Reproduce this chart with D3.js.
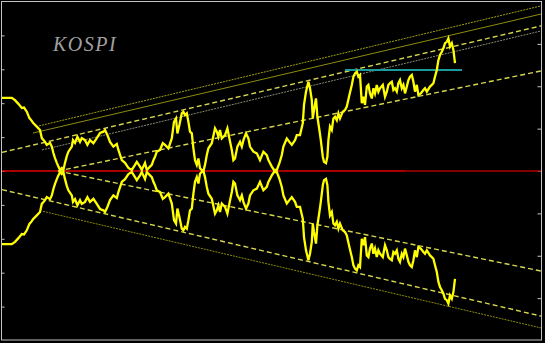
<!DOCTYPE html>
<html>
<head>
<meta charset="utf-8">
<script src="https://cdn.jsdelivr.net/npm/d3@7"></script>
<style>
html,body{margin:0;padding:0;background:#000;}
svg{display:block;}
</style>
</head>
<body>
<svg id="c" width="545" height="343"></svg>
<script>
// ---- data ----
const title = "KOSPI";
// trading-day index
const days = [0,4.9,6.5,8.2,9.9,11,12.4,13.7,14.9,15.5,17.4,19,19.9,21.5,22.4,24,24.9,25.7,26.5,27.4,28.2,29,29.9,30.7,31.5,32.4,33.2,34.9,35.5,36.5,37.7,39,39.9,41.5,42.7,44,45.7,47.4,49,50.7,51.5,52.7,54,55.7,57.4,58.2,59.9,61.5,63.2,64.9,66.5,67.4,69,69.9,71.5,72.4,74,74.9,75.7,76.5,77.4,79,80.4,81.5,83.2,84.9,86,87,87.7,88.7,89.9,90.7,91.5,92.4,93.2,94,94.9,95.7,96.5,97.4,98.2,99,99.9,100.7,101.5,102.4,103.2,104.9,106.5,107.4,108.2,109,109.9,111.5,112.7,113.7,114.9,115.7,116.5,117.7,119,119.9,120.7,122,123.2,124,125.7,127.4,129,130.7,132.4,133.2,134.9,136,137.4,138.7,139.9,140.7,142.4,143.7,144.9,146.5,147.4,149,150.4,151,152,153.2,154,154.9,155.4,156,157,157.7,158.7,159.4,160.4,161,162,162.7,163.2,164,164.9,165.7,166.5,167.4,168.2,169,170.4,171.5,172.4,173.7,174.9,175.7,176.5,177.4,178.2,179,179.9,180.7,181.5,182.4,183.2,184,184.9,185.7,186.5,187.4,188.2,189,190.4,191.5,192.4,193.2,194,194.9,195.7,196.5,197.4,198.2,199,199.9,200.7,201.5,202.4,203.2,204,204.9,205.7,206.5,207.4,208.2,209.4,210.7,211.5,212.4,214,214.9,215.7,216.5,217.4,218.2,219,219.9,220.7,221.5,222.4,223.2,224,224.9,225.7,226.5];
// normalized KOSPI deviation
const kospi = [2.16,2.16,2.09,1.98,1.86,1.87,1.75,1.56,1.48,1.42,1.31,1.21,0.97,0.86,0.77,0.83,0.72,0.53,0.38,0.24,0.13,0.03,0.09,0.03,0.24,0.44,0.57,0.72,0.91,0.83,1.01,0.86,0.97,0.91,0.77,0.91,0.82,0.97,1.12,1.16,1.21,1.06,0.86,0.72,0.80,0.62,0.32,0.24,0.09,0.03,0.18,0.27,0.13,0.03,0.24,0.03,0.13,0.18,0.32,0.42,0.57,0.62,0.82,0.77,0.67,0.96,1.45,1.55,1.11,1.36,1.70,1.75,1.65,1.70,1.45,1.16,1.11,0.67,0.32,0.18,0.37,0.08,0.03,0.00,0.18,0.47,0.67,0.82,1.26,1.16,1.01,1.21,0.96,1.06,1.26,0.96,0.62,0.32,0.37,0.72,0.86,0.72,0.91,1.11,0.96,0.72,0.57,0.52,0.32,0.57,0.47,0.32,0.13,0.03,0.03,0.23,0.47,0.72,0.96,0.86,0.77,0.91,1.06,1.06,1.41,1.95,2.34,2.63,2.44,2.09,1.55,1.80,2.14,1.60,1.21,0.91,0.42,0.27,0.23,0.42,0.91,1.31,1.21,1.55,1.60,1.50,1.70,1.55,1.75,1.80,1.90,2.24,2.54,2.78,2.88,2.93,2.78,2.83,2.00,2.19,1.95,2.49,2.54,2.29,2.14,2.44,2.29,2.54,2.34,2.44,2.54,2.19,2.34,2.54,2.59,2.63,2.39,2.44,2.34,2.59,2.68,2.44,2.54,2.29,2.49,2.68,2.78,2.83,2.63,2.34,2.54,2.24,2.29,2.39,2.44,2.34,2.49,2.54,2.59,2.78,2.98,3.27,3.42,3.52,3.62,3.77,3.81,3.91,3.67,3.77,3.57,3.18];
// trend lines: [startDay, startValue, endDay, endValue]
const channelTop   = [18.5, 1.33, 269.5, 4.87];
const channelMid   = [15.5, 1.12, 269.5, 4.63];
const trendUpper   = [0, 0.55, 269.5, 4.28];
const trendGrey    = [20, 0.62, 269.5, 4.13];
const trendLower   = [28, 0, 269.5, 2.95];
const mirrorUpper  = [0, -0.55, 269.5, -4.28];
const mirrorMid    = [20.5, -1.19, 269.5, -4.63];
const mirrorLower  = [28, 0, 269.5, -2.95];
const resistance   = [171.5, 2.98, 230, 2.98];
const leftTicks  = [-4,-3,-2,-1,0,1,2,3,4];
const rightTicks = [-3,-2,-1,0,1,2,3];

// ---- scales ----
const svg = d3.select("#c");
const W = 545, H = 343;
const x = d3.scaleLinear().domain([0, 270]).range([2, 542]);
const yL = d3.scaleLinear().domain([-5, 5]).range([340.5, 1.5]);
const yR = d3.scaleLinear().domain([-4, 4]).range([340.5, 1.5]);

svg.append("rect").attr("width", W).attr("height", H).attr("fill", "#000");

// frame
svg.append("rect").attr("x", 1.5).attr("y", 1.5)
  .attr("width", 540).attr("height", 338.5)
  .attr("fill", "none").attr("stroke", "#c4c4c4").attr("stroke-width", 1);

// axes ticks
const la = svg.append("g").attr("transform", "translate(1.5,0)")
  .call(d3.axisRight(yL).tickValues(leftTicks).tickSize(3).tickFormat(""));
const ra = svg.append("g").attr("transform", "translate(541.5,0)")
  .call(d3.axisLeft(yR).tickValues(rightTicks).tickSize(4).tickFormat(""));
[la, ra].forEach(g => {
  g.select(".domain").remove();
  g.selectAll(".tick line").attr("stroke", "#c4c4c4");
});

// zero line
svg.append("line").attr("x1", 2).attr("x2", x(201.5))
  .attr("y1", yL(0)).attr("y2", yL(0)).attr("stroke", "#e00000").attr("stroke-width", 1.5);
svg.append("line").attr("x1", x(201.5)).attr("x2", 541)
  .attr("y1", yL(0)).attr("y2", yL(0)).attr("stroke", "#a80000").attr("stroke-width", 1.5);

function seg(d, color, width, dash) {
  svg.append("line")
    .attr("x1", x(d[0])).attr("y1", yL(d[1]))
    .attr("x2", x(d[2])).attr("y2", yL(d[3]))
    .attr("stroke", color).attr("stroke-width", width)
    .attr("stroke-dasharray", dash || null);
}
seg(channelTop, "#a0a018", 1, "2,1");
seg(channelMid, "#8c8c10", 1, null);
seg(trendGrey, "#8a8a78", 1, "2,1");
seg(trendUpper, "#d6d650", 1.4, "5,3");
seg(trendLower, "#d6d650", 1.4, "5,3");
seg(mirrorUpper, "#d6d650", 1.4, "5,3");
seg(mirrorLower, "#d6d650", 1.4, "5,3");
seg(mirrorMid, "#8c8c10", 1, "2,1");
seg(resistance, "#1a9c9c", 2, null);

// series + mirror
const pts = days.map((d, i) => [d, kospi[i]]);
const line = d3.line().x(d => x(d[0])).y(d => yL(d[1]));
svg.append("path").datum(pts).attr("d", line)
  .attr("fill", "none").attr("stroke", "#ffff00").attr("stroke-width", 2.3).attr("stroke-linejoin", "miter");
svg.append("path").datum(pts.map(p => [p[0], -p[1]])).attr("d", line)
  .attr("fill", "none").attr("stroke", "#ffff00").attr("stroke-width", 2.3).attr("stroke-linejoin", "miter");

// title
svg.append("text").attr("x", 53).attr("y", 51)
  .attr("font-family", "'Liberation Serif', 'DejaVu Serif', serif")
  .attr("font-style", "italic").attr("font-size", 20)
  .attr("letter-spacing", 1.5)
  .attr("fill", "#a0a0a0").text(title);
</script>
</body>
</html>
